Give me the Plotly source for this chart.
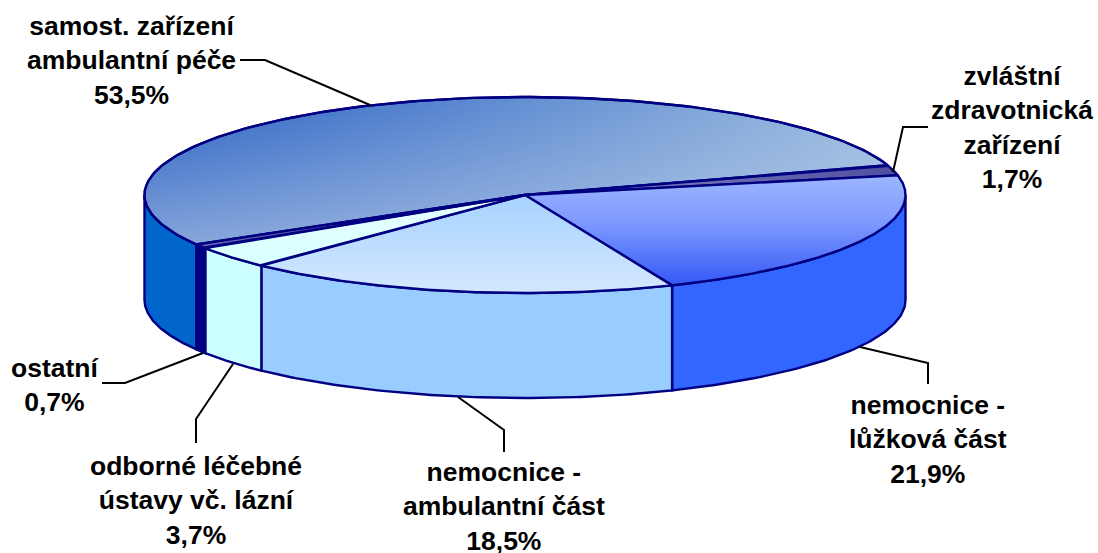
import numpy as np
import plotly.graph_objects as go

categories = ["samost. zařízení ambulantní péče", "zvláštní zdravotnická zařízení",
              "nemocnice - lůžková část", "nemocnice - ambulantní část",
              "odborné léčebné ústavy vč. lázní", "ostatní"]
values = [53.5, 1.7, 21.9, 18.5, 3.7, 0.7]
label_texts = ["samost. zařízení<br>ambulantní péče<br>53,5%",
               "zvláštní<br>zdravotnická<br>zařízení<br>1,7%",
               "nemocnice -<br>lůžková část<br>21,9%",
               "nemocnice -<br>ambulantní část<br>18,5%",
               "odborné léčebné<br>ústavy vč. lázní<br>3,7%",
               "ostatní<br>0,7%"]
label_x = [131, 1012, 928, 504, 196, 55]
label_y = [60, 127, 439, 506, 500, 385]
side_colors = ["#0066CC", "#333399", "#3366FF", "#99CCFF", "#CCFFFF", "#000080"]
top_grads = [("horizontal", [[0, "#285FC3"], [1, "#9ABBE0"]]),
             ("horizontal", [[0, "#8888C8"], [1, "#4F4FA0"]]),
             ("vertical", [[0, "#3358F5"], [0.55, "#7C98FF"], [1, "#9DB6FF"]]),
             ("vertical", [[0, "#D4E8FF"], [1, "#A6D3FF"]]),
             ("vertical", [[0, "#D8FFFF"], [1, "#E8FFFF"]]),
             ("vertical", [[0, "#6060B0"], [1, "#8080C0"]])]
big_overlay = [[0, "rgba(200,215,235,0.58)"], [1, "rgba(200,215,235,0)"]]
leaders = [([240, 265, 370], [60, 60, 105]),
           ([893, 903, 928], [172, 127, 127]),
           ([860, 928, 928], [347, 363, 384]),
           ([458, 504, 504], [397, 430, 452]),
           ([233, 196, 196], [364, 419, 443]),
           ([203, 125, 102], [353, 383, 383])]

CX, CY, RX, RY, DEPTH = 525, 195, 380.5, 98, 105
START = 149.7
EDGE = "#000080"

fig = go.Figure()
frac = np.array(values) / sum(values) * 360
ends = START + np.cumsum(frac)
starts = ends - frac


def pt(deg, dy=0):
    r = np.radians(deg)
    return CX + RX * np.cos(r), CY + RY * np.sin(r) + dy


def poly(x, y, width=2.4, **kw):
    fig.add_trace(go.Scatter(x=list(x), y=list(y), mode="lines", fill="toself",
                             line=dict(color=EDGE, width=width), hoverinfo="skip",
                             showlegend=False, **kw))


# outer walls (visible front half only: 0..180 degrees)
for a, b, c in zip(starts, ends, side_colors):
    for off in (-360, 0, 360):
        lo, hi = max(a + off, 0), min(b + off, 180)
        if lo >= hi:
            continue
        t = np.linspace(lo, hi, 80)
        xt, yt = pt(t)
        xb, yb = pt(t[::-1], DEPTH)
        poly(np.r_[xt, xb, xt[0]], np.r_[yt, yb, yt[0]], fillcolor=c)

# top faces
for i, (a, b, g) in enumerate(zip(starts, ends, top_grads)):
    t = np.linspace(a, b, 160)
    xt, yt = pt(t)
    xs, ys = np.r_[CX, xt, CX], np.r_[CY, yt, CY]
    poly(xs, ys, fillgradient=dict(type=g[0], colorscale=g[1]))
    if i == 0:
        poly(xs, ys, fillgradient=dict(type="vertical", colorscale=big_overlay))

# leader lines
for lx, ly in leaders:
    fig.add_trace(go.Scatter(x=lx, y=ly, mode="lines", line=dict(color="black", width=2),
                             hoverinfo="skip", showlegend=False))

for s, x, y in zip(label_texts, label_x, label_y):
    fig.add_annotation(x=x, y=y, text="<br>".join(f"<b>{p}</b>" for p in s.split("<br>")),
                       showarrow=False, align="center",
                       font=dict(family="Liberation Sans", size=26.5, color="black"))

fig.update_xaxes(range=[0, 1098], visible=False)
fig.update_yaxes(range=[553, 0], visible=False)
fig.update_layout(width=1098, height=553, margin=dict(l=0, r=0, t=0, b=0),
                  paper_bgcolor="white", plot_bgcolor="white", showlegend=False)
fig.write_html("out.html", config=dict(displayModeBar=False),
               post_script="document.body.style.margin='0';document.documentElement.style.overflow='hidden';")
